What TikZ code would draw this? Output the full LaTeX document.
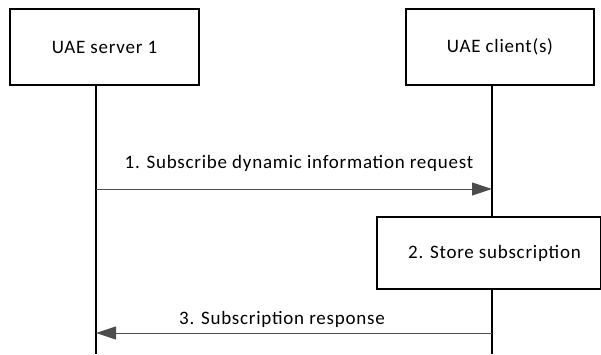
\documentclass[tikz,border=0pt]{standalone}
\usepackage{fontspec}
\setmainfont{Carlito}[LetterSpace=4]
\usetikzlibrary{arrows.meta}

\begin{document}
\begin{tikzpicture}[x=1pt,y=-1pt,
% Estilo de las cajas
caja/.style={draw=black, line width=1.2pt, fill=white, inner sep=0pt, font=\fontsize{19}{22}\selectfont},
% Estilo de las lineas de vida
vida/.style={draw=black, line width=1.2pt},
% Estilo de los mensajes
mensaje/.style={-{Triangle[length=20pt,width=13pt]}, draw=black!70, color=black!70, line width=1pt},
% Estilo de las etiquetas
etiq/.style={font=\fontsize{19}{22}\selectfont, inner sep=0pt, anchor=base},
]
\useasboundingbox (0,0) rectangle (601,354);

% Cajas
\node (servidor) at (104.5,47) [caja, minimum width=189pt, minimum height=76pt]{UAE server 1};
\node (cliente) at (500,47) [caja, minimum width=188pt, minimum height=76pt]{UAE client(s)};
\node (guardar) at (489,253) [caja, minimum width=224pt, minimum height=72pt]{\hspace*{11pt}2. Store subscription};

% Coordenadas de las lineas de vida
\coordinate (s1) at (96,85);
\coordinate (s2) at (96,354);
\coordinate (c1) at (492,85);
\coordinate (c2) at (492,217);
\coordinate (c3) at (492,289);
\coordinate (c4) at (492,354);
\coordinate (m1a) at (96,189);
\coordinate (m1b) at (492,189);
\coordinate (m3a) at (492,333);
\coordinate (m3b) at (96,333);

% Lineas de vida
\draw[vida] (s1) -- (s2);
\draw[vida] (c1) -- (c2);
\draw[vida] (c3) -- (c4);

% Flechas
\draw[mensaje] (m1a) -- (m1b);
\node (etiq1) at (299,168) [etiq]{1. Subscribe dynamic information request};
\draw[mensaje] (m3a) -- (m3b);
\node (etiq3) at (282,324) [etiq]{3. Subscription response};
\end{tikzpicture}
\end{document}
